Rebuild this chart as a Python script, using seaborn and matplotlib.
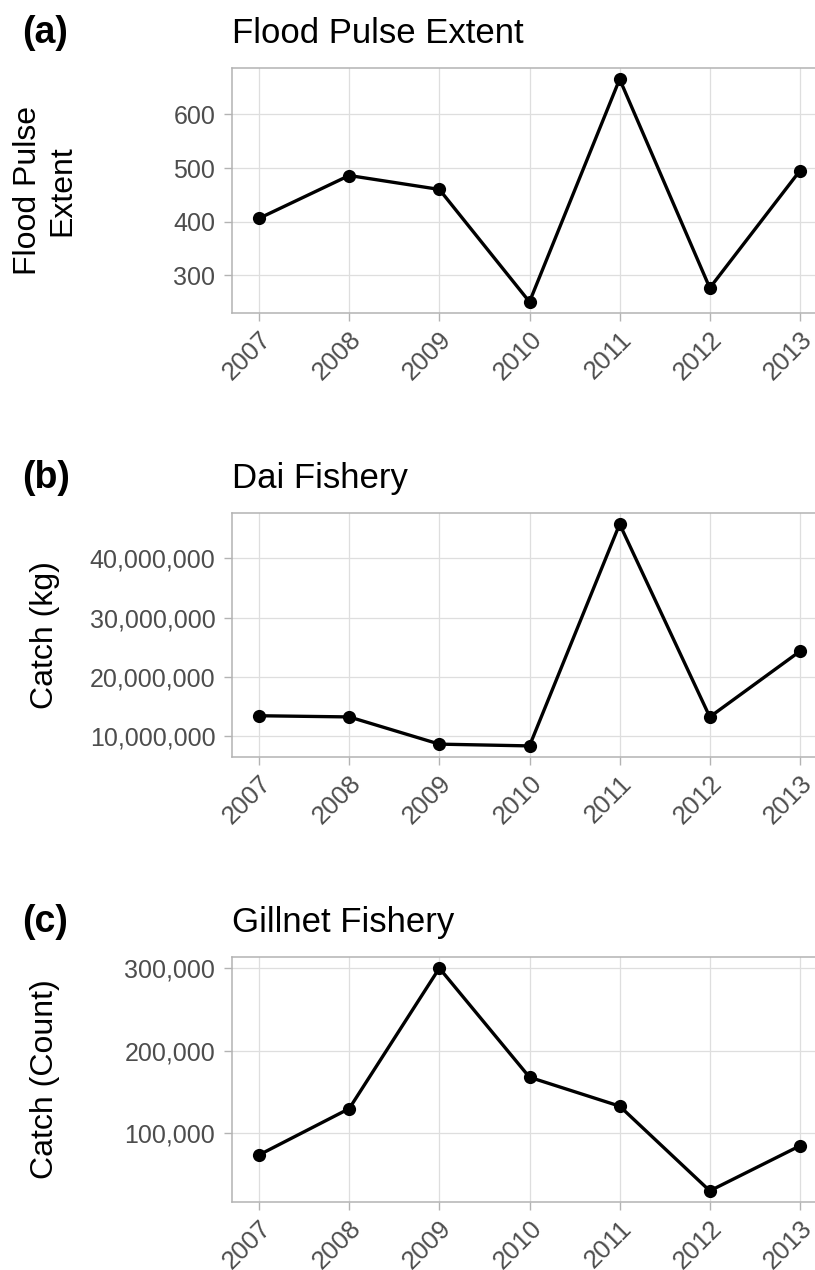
import matplotlib
matplotlib.use("Agg")
import matplotlib.pyplot as plt
from matplotlib.ticker import FuncFormatter, MultipleLocator
import seaborn as sns
import pandas as pd

# Annual series, 2007-2013
years = [2007, 2008, 2009, 2010, 2011, 2012, 2013]
flood_extent = [406, 486, 460, 250, 666, 276, 495]
dai_catch_kg = [13.4e6, 13.2e6, 8.6e6, 8.3e6, 45.8e6, 13.2e6, 24.3e6]
gillnet_count = [74000, 130000, 300000, 168000, 133000, 30500, 85000]

panel_letters = ["(a)", "(b)", "(c)"]
panel_titles = ["Flood Pulse Extent", "Dai Fishery", "Gillnet Fishery"]
y_labels = ["Flood Pulse\nExtent", "Catch (kg)", "Catch (Count)"]
y_steps = [100, 10_000_000, 100_000]
series = [flood_extent, dai_catch_kg, gillnet_count]

sns.set_theme(style="whitegrid")
plt.rcParams["font.family"] = ["Liberation Sans", "DejaVu Sans"]

W, H = 815, 1270
fig = plt.figure(figsize=(W / 100, H / 100), dpi=100)

# panel boxes in pixels: (left, top, right, bottom); the right edge runs
# slightly past the figure, so the frame is open on that side
boxes = [(232, 68, 827, 313), (232, 513, 827, 757), (232, 957, 827, 1202)]

grid_col = "#DEDEDE"
frame_col = "#B3B3B3"
tick_text = "#4D4D4D"

for i, (vals, box) in enumerate(zip(series, boxes)):
    l, t, r, b = box
    ax = fig.add_axes([l / W, 1 - b / H, (r - l) / W, (b - t) / H])
    df = pd.DataFrame({"year": years, "value": vals})
    sns.lineplot(data=df, x="year", y="value", ax=ax, color="black",
                 linewidth=2.4, marker="o", markersize=9.5,
                 markeredgewidth=0, markerfacecolor="black")

    ax.set_xlim(2006.7, 2013.3)
    ax.set_xticks(years)
    ax.set_xticklabels([str(y) for y in years], rotation=45, ha="right",
                       va="top", rotation_mode="anchor")
    ax.yaxis.set_major_locator(MultipleLocator(y_steps[i]))
    ax.yaxis.set_major_formatter(FuncFormatter(lambda v, p: f"{v:,.0f}"))

    ax.set_facecolor("white")
    ax.patch.set_edgecolor("none")
    ax.grid(True, color=grid_col, linewidth=0.9)
    for s in ax.spines.values():
        s.set_color(frame_col)
        s.set_linewidth(1.1)
    ax.spines["right"].set_visible(False)
    ax.tick_params(axis="both", which="major", length=6, width=1.0,
                   color=frame_col, labelcolor=tick_text, labelsize=18,
                   left=True, bottom=True)
    ax.tick_params(axis="y", pad=6)
    ax.tick_params(axis="x", pad=4, labelsize=18.5)

    ax.set_xlabel("")
    ax.set_ylabel(y_labels[i], fontsize=23, color="black",
                  multialignment="center")
    ax.yaxis.label.set_va("center")
    ax.yaxis.set_label_coords(45 / W, 1 - ((t + b) / 2) / H,
                              transform=fig.transFigure)

    ax.set_title(panel_titles[i], loc="left", fontsize=25, color="black",
                 pad=18)
    fig.text(22 / W, 1 - (t - 25) / H, panel_letters[i], fontsize=27,
             fontweight="bold", ha="left", va="baseline", color="black")

fig.savefig("out.png", dpi=100, facecolor="white")
